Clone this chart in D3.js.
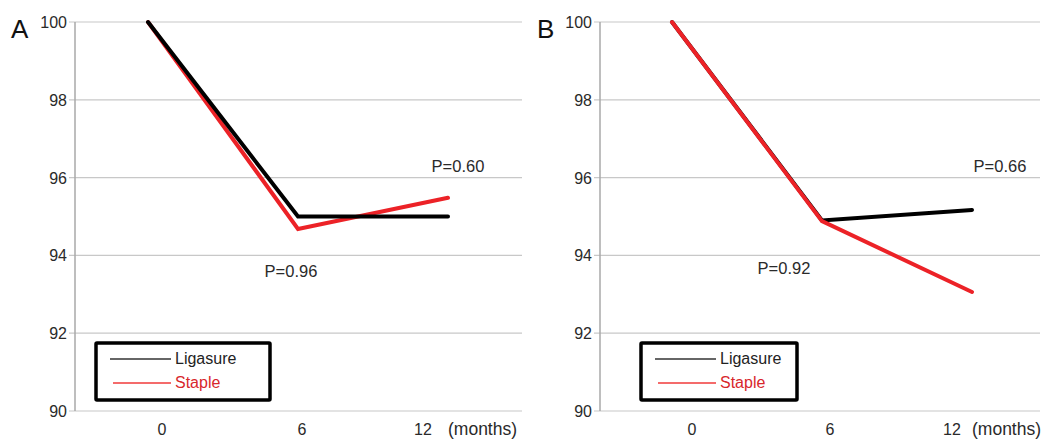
<!DOCTYPE html>
<html>
<head>
<meta charset="utf-8">
<script src="https://cdn.jsdelivr.net/npm/d3@7"></script>
<style>
  body { margin: 0; background: #fff; }
  svg { font-family: "Liberation Sans", Arial, sans-serif; }
</style>
</head>
<body>
<div id="chart"></div>
<script>
// data
const months = [0, 6, 12];
const yTicks = [90, 92, 94, 96, 98, 100];
const seriesNames = ["Ligasure", "Staple"];
const ligasureA = [100, 95.0, 95.0];
const stapleA = [100, 94.68, 95.48];
const ligasureB = [100, 94.9, 95.17];
const stapleB = [100, 94.88, 93.06];
const pLabelsA = ["P=0.96", "P=0.60"];
const pLabelsB = ["P=0.92", "P=0.66"];

const colors = { Ligasure: "#000", Staple: "#ec2227" };

const svg = d3.select("#chart").append("svg")
    .attr("width", 1046)
    .attr("height", 440);

function drawPanel(cfg){
    const g = svg.append("g");
    const x = d3.scaleLinear().domain([0, 12]).range([cfg.x0, cfg.x0 + 300]);
    const y = d3.scaleLinear().domain([90, 100]).range([411, 22]);

    // grid
    g.selectAll("line.grid")
        .data(yTicks)
        .enter()
        .append("line")
            .attr("x1", cfg.axisX - 6)
            .attr("x2", cfg.gridEnd)
            .attr("y1", d => y(d))
            .attr("y2", d => y(d))
            .style("stroke", "#c8c8c8")
            .style("stroke-width", 1.2);

    g.append("line")
        .attr("x1", cfg.axisX).attr("x2", cfg.axisX)
        .attr("y1", y(100)).attr("y2", y(90))
        .style("stroke", "#a8a8a8")
        .style("stroke-width", 1.5);

    g.selectAll("text.ytick")
        .data(yTicks)
        .enter()
        .append("text")
            .attr("x", cfg.axisX - 8)
            .attr("y", d => y(d) + 6)
            .attr("text-anchor", "end")
            .style("font-size", "16px")
            .style("fill", "#2a2a2a")
            .text(d => d);

    // x tick labels (they sit a little off the data points in the original)
    g.selectAll("text.xtick")
        .data(months)
        .enter()
        .append("text")
            .attr("x", d => x(d) + cfg.labelShift[d])
            .attr("y", 435)
            .attr("text-anchor", "middle")
            .style("font-size", "16px")
            .style("fill", "#2a2a2a")
            .text(d => d);

    g.append("text")
        .attr("x", x(12) + cfg.monthsDx)
        .attr("y", 435)
        .style("font-size", "17.5px")
        .style("fill", "#2a2a2a")
        .text("(months)");

    g.append("text")
        .attr("x", cfg.letterX)
        .attr("y", 38)
        .style("font-size", "26px")
        .style("fill", "#111")
        .text(cfg.letter);

    const line = d3.line()
        .x((d, i) => x(months[i]))
        .y(d => y(d));

    const series = [
        { name: "Ligasure", values: cfg.ligasure },
        { name: "Staple", values: cfg.staple }
    ];
    const order = cfg.redOnTop ? series : series.slice().reverse();
    g.selectAll("path.series")
        .data(order)
        .enter()
        .append("path")
            .attr("d", d => line(d.values))
            .style("fill", "none")
            .style("stroke", d => colors[d.name])
            .style("stroke-width", 4)
            .style("stroke-linejoin", "miter")
            .style("stroke-linecap", "round");

    // p values
    g.append("text")
        .attr("x", x(6) + cfg.p1dx)
        .attr("y", cfg.p1y)
        .attr("text-anchor", "middle")
        .style("font-size", "16.5px")
        .style("fill", "#2a2a2a")
        .text(cfg.pLabels[0]);
    g.append("text")
        .attr("x", x(12) + cfg.p2dx)
        .attr("y", 172)
        .attr("text-anchor", "middle")
        .style("font-size", "16.5px")
        .style("fill", "#2a2a2a")
        .text(cfg.pLabels[1]);

    // legend
    const lg = g.append("g").attr("transform", `translate(${cfg.legendX},343)`);
    lg.append("rect")
        .attr("width", cfg.legendW)
        .attr("height", 57)
        .attr("rx", 1)
        .style("fill", "#fff")
        .style("stroke", "#000")
        .style("stroke-width", 3.5);
    seriesNames.forEach((name, i) => {
        lg.append("line")
            .attr("x1", 14 + i * 3).attr("x2", 75)
            .attr("y1", 16 + i * 24).attr("y2", 16 + i * 24)
            .style("stroke", name === "Staple" ? "#f03a3a" : "#333")
            .style("stroke-width", 1.6);
        lg.append("text")
            .attr("x", 79)
            .attr("y", 21 + i * 24)
            .style("font-size", "16px")
            .style("fill", name === "Staple" ? "#d8262b" : "#222")
            .text(name);
    });
}

drawPanel({
    letter: "A", letterX: 11, x0: 148, axisX: 75, gridEnd: 522,
    ligasure: ligasureA, staple: stapleA, pLabels: pLabelsA,
    p1dx: -7, p1y: 277, p2dx: 10, monthsDx: 0,
    labelShift: { 0: 14, 6: 4, 12: -25 },
    legendX: 96, legendW: 174, redOnTop: false
});
drawPanel({
    letter: "B", letterX: 537, x0: 672, axisX: 600, gridEnd: 1040,
    ligasure: ligasureB, staple: stapleB, pLabels: pLabelsB,
    p1dx: -38, p2dx: 28, p1y: 274, monthsDx: 0,
    labelShift: { 0: 20, 6: 8, 12: -20 },
    legendX: 641, legendW: 156, redOnTop: true
});
</script>
</body>
</html>
